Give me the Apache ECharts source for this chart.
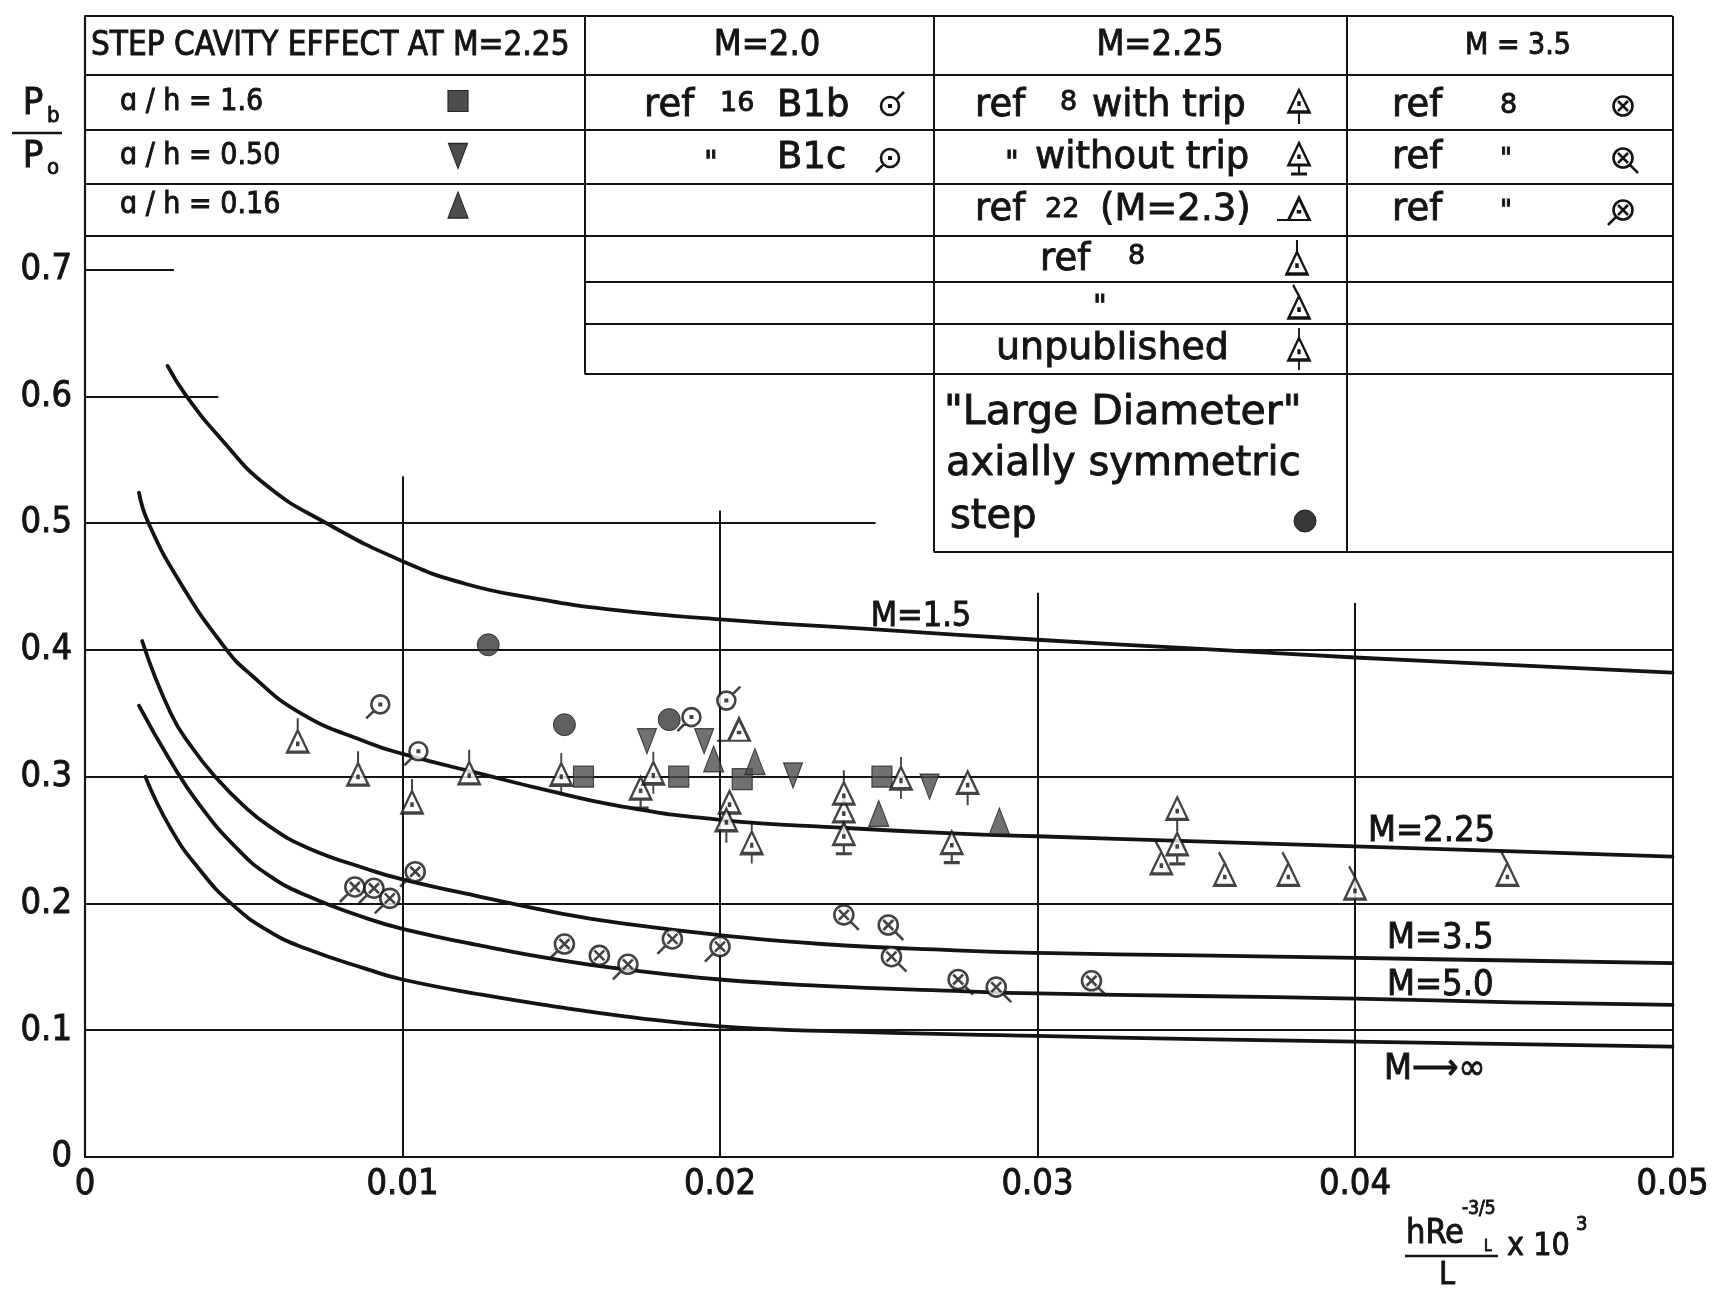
<!DOCTYPE html>
<html>
<head>
<meta charset="utf-8">
<script src="https://cdn.jsdelivr.net/npm/echarts@6/dist/echarts.min.js"></script>
<style>
  html, body { margin: 0; padding: 0; background: #ffffff; }
  #chart { width: 1712px; height: 1289px; }
</style>
</head>
<body>
<div id="chart"></div>
<script>
// ---- tick labels ----
const xTickLabels = ['0', '0.01', '0.02', '0.03', '0.04', '0.05'];
const yTickLabels = ['0', '0.1', '0.2', '0.3', '0.4', '0.5', '0.6', '0.7'];

// ---- theoretical base-pressure curves  [hRe^-3/5/L x10^3, Pb/Po] ----
const curveM15 = [[0.0026,0.624],[0.0032,0.600],[0.0043,0.566],[0.0057,0.530],[0.0076,0.500],[0.0100,0.470],[0.0120,0.452],[0.0143,0.440],[0.0165,0.432],[0.0200,0.424],[0.0250,0.416],[0.0300,0.408],[0.0350,0.401],[0.0400,0.394],[0.0450,0.388],[0.0500,0.382]];
const curveM225 = [[0.0017,0.524],[0.0020,0.500],[0.0030,0.453],[0.0044,0.402],[0.0052,0.381],[0.0068,0.350],[0.0089,0.327],[0.0100,0.318],[0.0125,0.302],[0.0146,0.289],[0.0168,0.277],[0.0200,0.266],[0.0240,0.2595],[0.0275,0.255],[0.0300,0.253],[0.0350,0.249],[0.0400,0.245],[0.0450,0.241],[0.0500,0.237]];
const curveM35 = [[0.0018,0.407],[0.0027,0.350],[0.0034,0.322],[0.0041,0.300],[0.0050,0.277],[0.0058,0.261],[0.0070,0.244],[0.0089,0.227],[0.0100,0.219],[0.0125,0.205],[0.0150,0.192],[0.0170,0.184],[0.0200,0.175],[0.0232,0.168],[0.0274,0.163],[0.0300,0.161],[0.0350,0.159],[0.0400,0.157],[0.0450,0.155],[0.0500,0.153]];
const curveM50 = [[0.0017,0.356],[0.0027,0.312],[0.0036,0.278],[0.0048,0.243],[0.0058,0.222],[0.0070,0.206],[0.0089,0.188],[0.0100,0.180],[0.0125,0.1665],[0.0150,0.155],[0.0170,0.148],[0.0200,0.140],[0.0232,0.135],[0.0274,0.131],[0.0300,0.129],[0.0350,0.127],[0.0400,0.125],[0.0450,0.122],[0.0500,0.120]];
const curveMinf = [[0.0019,0.300],[0.0027,0.259],[0.0036,0.227],[0.0046,0.200],[0.0058,0.178],[0.0070,0.164],[0.0089,0.148],[0.0100,0.140],[0.0125,0.128],[0.0150,0.118],[0.0170,0.111],[0.0200,0.103],[0.0232,0.0995],[0.0300,0.0955],[0.0350,0.093],[0.0400,0.091],[0.0450,0.089],[0.0500,0.087]];

// ---- step cavity effect at M = 2.25 ----
const cavity16 = [[0.0157,0.300],[0.0187,0.300],[0.0207,0.298],[0.0251,0.300]];
const cavity050 = [[0.0177,0.328],[0.0195,0.328],[0.0223,0.301],[0.0266,0.292]];
const cavity016 = [[0.0198,0.314],[0.0211,0.312],[0.0250,0.271],[0.0288,0.265]];

// ---- M = 2.0 ----
const ref16B1b = [[0.0202,0.360]];
const ref16B1c = [[0.0093,0.357],[0.0105,0.320],[0.0191,0.347]];

// ---- M = 2.25 ----
const ref8WithTrip = [[0.0203,0.280],[0.0202,0.266],[0.0239,0.273],[0.0278,0.2955],[0.0344,0.275]];
const ref8WithoutTrip = [[0.0175,0.291],[0.0239,0.255],[0.0273,0.248],[0.0344,0.247]];
const ref22M23 = [[0.0206,0.337]];
const ref8Plain = [[0.0067,0.328],[0.0086,0.302],[0.0103,0.280],[0.0121,0.303],[0.0239,0.287]];
const ref8Ditto = [[0.0339,0.232],[0.0359,0.223],[0.0379,0.223],[0.0400,0.212],[0.0448,0.223]];
const unpublished = [[0.0150,0.302],[0.0179,0.303],[0.0210,0.248],[0.0257,0.299]];
const largeDiameter = [[0.0127,0.404],[0.0151,0.341],[0.0184,0.345]];

// ---- M = 3.5 ----
const m35Ref8 = [[0.0162,0.159]];
const m35RefB = [[0.0239,0.191],[0.0253,0.183],[0.0254,0.158],[0.0275,0.140],[0.0287,0.134],[0.0317,0.139]];
const m35RefC = [[0.0085,0.213],[0.0091,0.212],[0.0096,0.204],[0.0104,0.225],[0.0151,0.168],[0.0171,0.152],[0.0185,0.172],[0.0200,0.166]];

// ---- drawing ----
const INK = '#141414';
const GREY = '#4d4d4d';

// partial grid lines of the plotting field (axis units)
const gridSegments = [
  [[0, 0.7], [0.0028, 0.7]],
  [[0, 0.6], [0.0042, 0.6]],
  [[0, 0.5], [0.0249, 0.5]],
  [[0, 0.4], [0.05, 0.4]],
  [[0, 0.3], [0.05, 0.3]],
  [[0, 0.2], [0.05, 0.2]],
  [[0, 0.1], [0.05, 0.1]],
  [[0.01, 0], [0.01, 0.537]],
  [[0.02, 0], [0.02, 0.51]],
  [[0.03, 0], [0.03, 0.445]],
  [[0.04, 0], [0.04, 0.437]],
  [[0.05, 0], [0.05, 0.9]]
];
// key table ruled in the upper part of the field (axis units)
const C1 = 0.01573, C2 = 0.02673, C3 = 0.03975;
const tableSegments = [
  [[0, 0.9], [0.05, 0.9]],
  [[0, 0.854], [0.05, 0.854]],
  [[0, 0.81], [0.05, 0.81]],
  [[0, 0.768], [0.05, 0.768]],
  [[0, 0.727], [0.05, 0.727]],
  [[C1, 0.69], [0.05, 0.69]],
  [[C1, 0.6575], [0.05, 0.6575]],
  [[C1, 0.618], [0.05, 0.618]],
  [[C2, 0.4776], [0.05, 0.4776]],
  [[C1, 0.9], [C1, 0.618]],
  [[C2, 0.9], [C2, 0.4776]],
  [[C3, 0.9], [C3, 0.4776]]
];

// marker outlines (triangle body centred on the point, with stems);
// symbolSize equals each path's bounding box so the shapes keep their proportions
const TRI = 'M0 -11L10.5 11L-10.5 11Z M-0.7 2L0.7 2L0.7 3.4L-0.7 3.4Z ';
const CIR9 = 'M9 0A9 9 0 1 1 -9 0A9 9 0 1 1 9 0Z M-0.7 -0.7L0.7 -0.7L0.7 0.7L-0.7 0.7Z ';
const CROSS = 'M9.5 0A9.5 9.5 0 1 1 -9.5 0A9.5 9.5 0 1 1 9.5 0Z M-5 -5L5 5M5 -5L-5 5 ';
const marks = {
  withTrip:    { symbol: 'path://' + TRI + 'M0 11L0 23', symbolSize: [21, 34], symbolOffset: [0, 6] },
  withoutTrip: { symbol: 'path://' + TRI + 'M0 11L0 20M-8 20L8 20', symbolSize: [21, 31], symbolOffset: [0, 4.5] },
  ref22:       { symbol: 'path://' + TRI + 'M-22 11L-10.5 11', symbolSize: [32.5, 22], symbolOffset: [-5.75, 0] },
  tailUp:      { symbol: 'path://' + TRI + 'M0 -11L0 -23', symbolSize: [21, 34], symbolOffset: [0, -6] },
  slant:       { symbol: 'path://' + TRI + 'M0 -11L-6 -22', symbolSize: [21, 33], symbolOffset: [0, -5.5] },
  both:        { symbol: 'path://' + TRI + 'M0 -11L0 -21M0 11L0 21', symbolSize: [21, 42], symbolOffset: [0, 0] },
  b1b:         { symbol: 'path://' + CIR9 + 'M6.4 -6.4L14 -14', symbolSize: [23, 23], symbolOffset: [2.5, -2.5] },
  b1c:         { symbol: 'path://' + CIR9 + 'M-6.4 6.4L-14 14', symbolSize: [23, 23], symbolOffset: [-2.5, 2.5] },
  cross:       { symbol: 'path://' + CROSS, symbolSize: [19, 19], symbolOffset: [0, 0] },
  crossR:      { symbol: 'path://' + CROSS + 'M6.7 6.7L15 15', symbolSize: [24.5, 24.5], symbolOffset: [2.75, 2.75] },
  crossL:      { symbol: 'path://' + CROSS + 'M-6.7 6.7L-15 15', symbolSize: [24.5, 24.5], symbolOffset: [-2.75, 2.75] },
  square:      { symbol: 'rect', symbolSize: [20, 21], symbolOffset: [0, 0] },
  down:        { symbol: 'triangle', symbolSize: [19, 25], symbolOffset: [0, 0], symbolRotate: 180 },
  up:          { symbol: 'triangle', symbolSize: [20, 26], symbolOffset: [0, 0] },
  dot:         { symbol: 'circle', symbolSize: 22, symbolOffset: [0, 0] }
};
const openStyle = { color: '#ffffff', borderColor: INK, borderWidth: 2.6 };
const solidStyle = { color: GREY, borderColor: '#262626', borderWidth: 1.2 };
const dotStyle = { color: '#383838', borderColor: '#1e1e1e', borderWidth: 1 };

// each series also draws its own key symbol inside the table (pixel position)
function pointSeries(name, data, mark, style, keyX, keyY) {
  const m = marks[mark];
  return {
    name, type: 'scatter', data, z: 5, silent: true, animation: false,
    symbol: m.symbol, symbolSize: m.symbolSize, symbolOffset: m.symbolOffset,
    symbolRotate: m.symbolRotate || 0, symbolKeepAspect: false,
    itemStyle: style,
    markPoint: {
      silent: true, animation: false,
      symbol: m.symbol, symbolSize: m.symbolSize, symbolOffset: m.symbolOffset,
      symbolRotate: m.symbolRotate || 0, symbolKeepAspect: false,
      itemStyle: style, label: { show: false },
      data: [{ x: keyX, y: keyY }]
    }
  };
}

function curveSeries(name, data) {
  return {
    name, type: 'line', data, z: 3, silent: true, animation: false,
    showSymbol: false, smooth: 0.5,
    lineStyle: { color: INK, width: 3.8, cap: 'round', join: 'round' }
  };
}

function segmentSeries(name, segs, width) {
  return {
    name, type: 'lines', coordinateSystem: 'cartesian2d', z: 2, silent: true,
    animation: false, clip: false, polyline: false,
    lineStyle: { color: INK, width, opacity: 1, curveness: 0 },
    data: segs.map(s => ({ coords: s }))
  };
}

const COND = '"DejaVu Sans Condensed", "DejaVu Sans", sans-serif';
const SANS = '"DejaVu Sans", sans-serif';

// lettering, slightly thickened with an outline of the same ink
function txt(x, y, text, size, family, align) {
  return {
    type: 'text', x, y, silent: true, z: 10,
    style: {
      text, font: size + 'px ' + family, fill: INK,
      stroke: INK, lineWidth: 0.9,
      align: align || 'left', textAlign: align || 'left',
      verticalAlign: 'middle', textVerticalAlign: 'middle'
    }
  };
}
function rule(x1, y1, x2, y2, w) {
  return { type: 'line', silent: true, z: 10, shape: { x1, y1, x2, y2 }, style: { stroke: INK, lineWidth: w } };
}

const texts = [
  // column 1
  txt(91, 46, 'STEP CAVITY EFFECT AT M=2.25', 33, COND),
  txt(120, 102, 'ɑ / h = 1.6', 30, COND),
  txt(120, 156, 'ɑ / h = 0.50', 30, COND),
  txt(120, 205, 'ɑ / h = 0.16', 30, COND),
  // column 2
  txt(767, 46, 'M=2.0', 36, COND, 'center'),
  txt(644, 106, 'ref', 37, SANS), txt(720, 104, '16', 27, SANS), txt(777, 106, 'B1b', 37, SANS),
  txt(704, 164, '"', 30, SANS), txt(777, 158, 'B1c', 37, SANS),
  // column 3
  txt(1160, 46, 'M=2.25', 36, COND, 'center'),
  txt(975, 106, 'ref', 37, SANS), txt(1060, 103, '8', 27, SANS), txt(1092, 106, 'with trip', 37, SANS),
  txt(1005, 164, '"', 30, SANS), txt(1035, 158, 'without trip', 37, SANS),
  txt(975, 210, 'ref', 37, SANS), txt(1045, 210, '22', 27, SANS), txt(1100, 210, '(M=2.3)', 37, SANS),
  txt(1040, 260, 'ref', 37, SANS), txt(1128, 257, '8', 27, SANS),
  txt(1093, 308, '"', 30, SANS),
  txt(996, 349, 'unpublished', 38, SANS),
  txt(944, 413, '"Large Diameter"', 41, SANS),
  txt(946, 465, 'axially symmetric', 40, SANS),
  txt(950, 518, 'step', 40, SANS),
  // column 4
  txt(1518, 46, 'M = 3.5', 30, COND, 'center'),
  txt(1392, 106, 'ref', 37, SANS), txt(1500, 106, '8', 27, SANS),
  txt(1392, 158, 'ref', 37, SANS), txt(1500, 160, '"', 26, SANS),
  txt(1392, 210, 'ref', 37, SANS), txt(1500, 212, '"', 26, SANS),
  // curve labels
  txt(921, 617, 'M=1.5', 34, COND, 'center'),
  txt(1368, 832, 'M=2.25', 36, COND),
  txt(1387, 939, 'M=3.5', 36, COND),
  txt(1387, 986, 'M=5.0', 36, COND),
  txt(1384, 1070, 'M⟶∞', 36, COND),
  // ordinate title
  txt(33, 104, 'P', 38, COND, 'center'), txt(47, 116, 'b', 22, COND),
  rule(12, 133, 62, 133, 2.5),
  txt(33, 157, 'P', 38, COND, 'center'), txt(47, 168, 'o', 22, COND),
  // abscissa title
  txt(1406, 1234, 'hRe', 34, COND), txt(1462, 1209, '-3/5', 19, COND), txt(1484, 1247, 'L', 15, COND),
  rule(1405, 1256, 1498, 1256, 2.5),
  txt(1447, 1276, 'L', 32, COND, 'center'),
  txt(1507, 1247, 'x 10', 32, COND), txt(1576, 1225, '3', 20, COND)
];

const chart = echarts.init(document.getElementById('chart'), null, { renderer: 'canvas', width: 1712, height: 1289 });

const tickLabelStyle = {
  color: INK, fontFamily: COND, fontSize: 36,
  textBorderColor: INK, textBorderWidth: 0.9
};

chart.setOption({
  backgroundColor: '#ffffff',
  animation: false,
  grid: { left: 85, right: 34, top: 16, bottom: 132, containLabel: false },
  xAxis: {
    type: 'value', min: 0, max: 0.05, interval: 0.01,
    axisLine: { show: true, onZero: false, lineStyle: { color: INK, width: 2.2 } },
    axisTick: { show: false }, splitLine: { show: false },
    axisLabel: Object.assign({ margin: 10, formatter: v => xTickLabels[Math.round(v * 100)] || '' }, tickLabelStyle)
  },
  yAxis: {
    type: 'value', min: 0, max: 0.9, interval: 0.1,
    axisLine: { show: true, onZero: false, lineStyle: { color: INK, width: 2.2 } },
    axisTick: { show: false }, splitLine: { show: false },
    axisLabel: Object.assign({ margin: 13, formatter: v => yTickLabels[Math.round(v * 10)] || '' }, tickLabelStyle)
  },
  series: [
    segmentSeries('grid', gridSegments, 2),
    segmentSeries('table', tableSegments, 2),
    curveSeries('M=1.5', curveM15),
    curveSeries('M=2.25', curveM225),
    curveSeries('M=3.5', curveM35),
    curveSeries('M=5.0', curveM50),
    curveSeries('M→∞', curveMinf),
    pointSeries('a/h = 1.6', cavity16, 'square', solidStyle, 458, 101),
    pointSeries('a/h = 0.50', cavity050, 'down', solidStyle, 458, 156),
    pointSeries('a/h = 0.16', cavity016, 'up', solidStyle, 458, 205),
    pointSeries('ref 16 B1b', ref16B1b, 'b1b', openStyle, 890, 106),
    pointSeries('ref 16 B1c', ref16B1c, 'b1c', openStyle, 890, 158),
    pointSeries('ref 8 with trip', ref8WithTrip, 'withTrip', openStyle, 1299, 101),
    pointSeries('ref 8 without trip', ref8WithoutTrip, 'withoutTrip', openStyle, 1299, 154),
    pointSeries('ref 22 (M=2.3)', ref22M23, 'ref22', openStyle, 1299, 209),
    pointSeries('ref 8', ref8Plain, 'tailUp', openStyle, 1297, 263),
    pointSeries('ref 8 (2)', ref8Ditto, 'slant', openStyle, 1299, 307),
    pointSeries('unpublished', unpublished, 'both', openStyle, 1299, 349),
    pointSeries('Large Diameter', largeDiameter, 'dot', dotStyle, 1305, 521),
    pointSeries('M=3.5 ref 8', m35Ref8, 'cross', openStyle, 1623, 106),
    pointSeries('M=3.5 ref 8 (2)', m35RefB, 'crossR', openStyle, 1623, 158),
    pointSeries('M=3.5 ref 8 (3)', m35RefC, 'crossL', openStyle, 1623, 210)
  ],
  graphic: texts
});
</script>
</body>
</html>
